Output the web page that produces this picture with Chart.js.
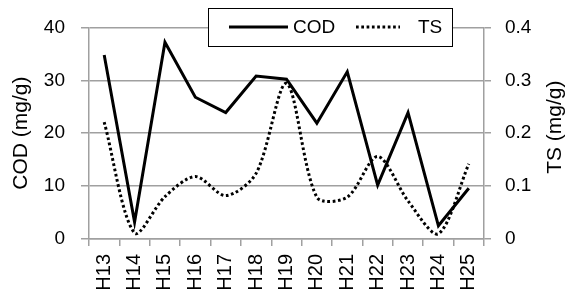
<!DOCTYPE html>
<html>
<head>
<meta charset="utf-8">
<script src="https://cdn.jsdelivr.net/npm/chart.js@4/dist/chart.umd.min.js"></script>
<style>
  html, body { margin: 0; padding: 0; background: #fff; }
  #wrap { width: 567px; height: 297px; }
</style>
</head>
<body>
<div id="wrap"><canvas id="chart" width="567" height="297"></canvas></div>
<script>
const sites = ["H13", "H14", "H15", "H16", "H17", "H18", "H19", "H20", "H21", "H22", "H23", "H24", "H25"];
const codValues = [34.8, 3.2, 37.2, 26.8, 23.9, 30.8, 30.2, 21.9, 31.6, 10.2, 23.9, 2.5, 9.6];
const tsValues = [0.221, 0.011, 0.08, 0.118, 0.082, 0.124, 0.294, 0.079, 0.079, 0.156, 0.072, 0.01, 0.142];
const codTicks = [0, 10, 20, 30, 40];
const tsTicks = [0, 0.1, 0.2, 0.3, 0.4];

const FONT = "'Liberation Sans', Arial, sans-serif";
const GRID = "#a0a0a0";
const DOTS = [2.7, 2.6];

// right axis title reads bottom-to-top, and legend sits in a framed box
const extras = {
  id: "extras",
  afterDraw(chart) {
    const ctx = chart.ctx;
    const area = chart.chartArea;

    ctx.save();
    ctx.fillStyle = "#000";
    ctx.font = "21px " + FONT;
    ctx.textAlign = "center";
    ctx.textBaseline = "middle";
    ctx.translate(555, (area.top + area.bottom) / 2 - 6);
    ctx.rotate(-Math.PI / 2);
    ctx.fillText("TS (mg/g)", 0, 0);
    ctx.restore();

    // legend box
    const bx = 208, by = 8, bw = 244, bh = 38;
    ctx.save();
    ctx.fillStyle = "#fff";
    ctx.fillRect(bx, by, bw, bh);
    ctx.strokeStyle = "#000";
    ctx.lineWidth = 1;
    ctx.strokeRect(bx + 0.5, by + 0.5, bw, bh);

    const ly = 27;
    const ds = chart.data.datasets;
    ctx.lineWidth = 3;
    ctx.strokeStyle = "#000";
    ctx.setLineDash([]);
    ctx.beginPath();
    ctx.moveTo(229, ly);
    ctx.lineTo(288, ly);
    ctx.stroke();

    ctx.setLineDash(DOTS);
    ctx.beginPath();
    ctx.moveTo(356, ly);
    ctx.lineTo(400, ly);
    ctx.stroke();
    ctx.setLineDash([]);

    ctx.fillStyle = "#000";
    ctx.font = "19px " + FONT;
    ctx.textAlign = "left";
    ctx.textBaseline = "middle";
    ctx.fillText(ds[0].label, 293, ly + 1);
    ctx.fillText(ds[1].label, 418, ly + 1);
    ctx.restore();
  }
};

new Chart(document.getElementById("chart"), {
  type: "line",
  data: {
    labels: sites,
    datasets: [
      {
        label: "COD",
        data: codValues,
        yAxisID: "y",
        borderColor: "#000",
        borderWidth: 3,
        pointRadius: 0,
        tension: 0,
        fill: false,
      },
      {
        label: "TS",
        data: tsValues,
        yAxisID: "y1",
        borderColor: "#000",
        borderWidth: 3,
        borderDash: DOTS,
        pointRadius: 0,
        tension: 0.3,
        fill: false,
      },
    ],
  },
  options: {
    responsive: false,
    animation: false,
    layout: { padding: { top: 16, left: 0, right: 0, bottom: 0 } },
    plugins: {
      legend: { display: false },
      tooltip: { enabled: false },
    },
    scales: {
      x: {
        type: "category",
        offset: true,
        afterFit: (s) => { s.height = 58; },
        grid: { offset: true, drawOnChartArea: false, color: GRID, lineWidth: 1.5, tickLength: 7 },
        border: { color: GRID, width: 1.5 },
        ticks: {
          color: "#000",
          font: { family: FONT, size: 20 },
          minRotation: 90,
          maxRotation: 90,
          padding: 8,
          autoSkip: false,
        },
      },
      y: {
        position: "left",
        min: 0,
        max: 40,
        afterFit: (s) => { s.width = 89; },
        afterBuildTicks: (s) => { s.ticks = codTicks.map((v) => ({ value: v })); },
        grid: { color: GRID, lineWidth: 1.5, tickLength: 8 },
        border: { color: GRID, width: 1.5 },
        ticks: {
          color: "#000",
          font: { family: FONT, size: 19 },
          padding: 16,
          callback: (v) => String(v),
        },
        title: {
          display: true,
          text: "COD (mg/g)",
          color: "#000",
          font: { family: FONT, size: 21 },
          padding: { top: 9, bottom: 0 },
        },
      },
      y1: {
        position: "right",
        min: 0,
        max: 0.4,
        afterFit: (s) => { s.width = 83; },
        afterBuildTicks: (s) => { s.ticks = tsTicks.map((v) => ({ value: v })); },
        grid: { drawOnChartArea: false, color: GRID, lineWidth: 1.5, tickLength: 7 },
        border: { color: GRID, width: 1.5 },
        ticks: {
          color: "#000",
          font: { family: FONT, size: 19 },
          padding: 14,
          callback: (v) => (v === 0 ? "0" : (+v).toFixed(1)),
        },
      },
    },
  },
  plugins: [extras],
});
</script>
</body>
</html>
